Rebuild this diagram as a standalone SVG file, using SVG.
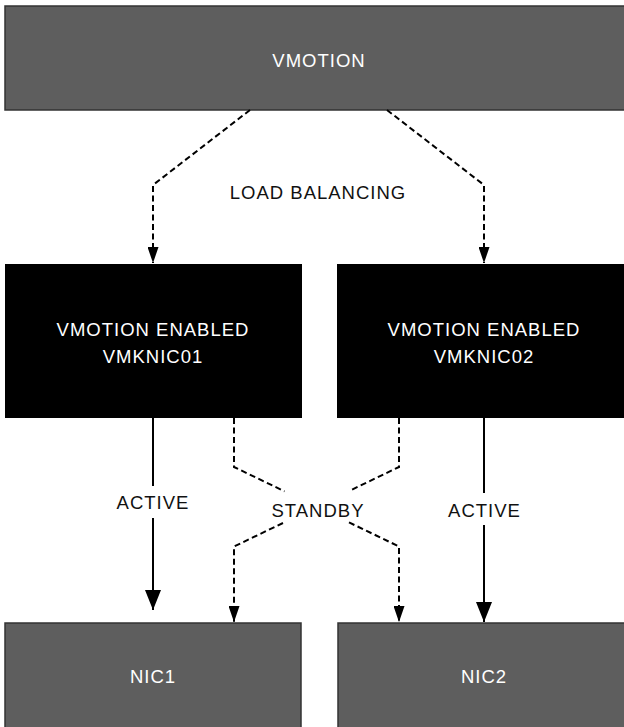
<svg xmlns="http://www.w3.org/2000/svg" width="624" height="727" viewBox="0 0 624 727">
  <style>
    .grey { fill: #5e5e5e; stroke: #333333; stroke-width: 1.5; }
    .dark { fill: #000000; }
    .lbl { font-family: "Liberation Sans", Arial, sans-serif; font-size: 18.5px; letter-spacing: 1px; text-anchor: middle; }
    .w { fill: #ffffff; }
    .k { fill: #111111; }
    .solid { fill: none; stroke: #000000; stroke-width: 2; }
    .dash { fill: none; stroke: #000000; stroke-width: 2; stroke-dasharray: 6 3.5; }
  </style>
  <defs>
    <marker id="arrowBig" markerUnits="userSpaceOnUse" markerWidth="20" markerHeight="16" refX="20" refY="8" orient="auto">
      <path d="M0,0 L20,8 L0,16 z" fill="#000000"/>
    </marker>
    <marker id="arrowSmall" markerUnits="userSpaceOnUse" markerWidth="16" markerHeight="11" refX="16" refY="5.5" orient="auto">
      <path d="M0,0 L16,5.5 L0,11 z" fill="#000000"/>
    </marker>
  </defs>

  <rect width="624" height="727" fill="#ffffff"/>

  <g id="vmotion">
    <rect class="grey" x="5" y="6" width="630" height="104"/>
    <text class="lbl w" x="319" y="66.5">VMOTION</text>
  </g>

  <g id="vmknic01">
    <rect class="dark" x="5" y="264" width="297" height="154"/>
    <text class="lbl w" x="153" y="336">VMOTION ENABLED</text>
    <text class="lbl w" x="153" y="362.7">VMKNIC01</text>
  </g>

  <g id="vmknic02">
    <rect class="dark" x="337" y="264" width="295" height="154"/>
    <text class="lbl w" x="484" y="336">VMOTION ENABLED</text>
    <text class="lbl w" x="484" y="362.7">VMKNIC02</text>
  </g>

  <g id="nic1">
    <rect class="grey" x="5" y="623" width="296" height="110"/>
    <text class="lbl w" x="153" y="683.3">NIC1</text>
  </g>

  <g id="nic2">
    <rect class="grey" x="338" y="623" width="296" height="110"/>
    <text class="lbl w" x="484" y="683.3">NIC2</text>
  </g>

  <g id="connectors">
    <!-- load balancing from vMotion to both vmknics -->
    <path class="dash" d="M250,110 L153,185 L153,263" marker-end="url(#arrowSmall)"/>
    <path class="dash" d="M387,110 L484,185 L484,263" marker-end="url(#arrowSmall)"/>
    <text class="lbl k" x="318" y="199.3">LOAD BALANCING</text>

    <!-- active uplinks -->
    <path class="solid" d="M153,418 L153,486 M153,518 L153,610" marker-end="url(#arrowBig)"/>
    <text class="lbl k" x="153" y="509.3">ACTIVE</text>
    <path class="solid" d="M484,418 L484,493 M484,525 L484,622" marker-end="url(#arrowBig)"/>
    <text class="lbl k" x="484.5" y="516.7">ACTIVE</text>

    <!-- standby uplinks crossing over -->
    <path class="dash" d="M234,418 L234,467 L284.5,491.3 M349,522.4 L399,546.5 L399,622" marker-end="url(#arrowSmall)"/>
    <path class="dash" d="M399,418 L399,467 L352,489.6 M283,523 L234,546.5 L234,622" marker-end="url(#arrowSmall)"/>
    <text class="lbl k" x="318" y="516.7">STANDBY</text>
  </g>
</svg>
